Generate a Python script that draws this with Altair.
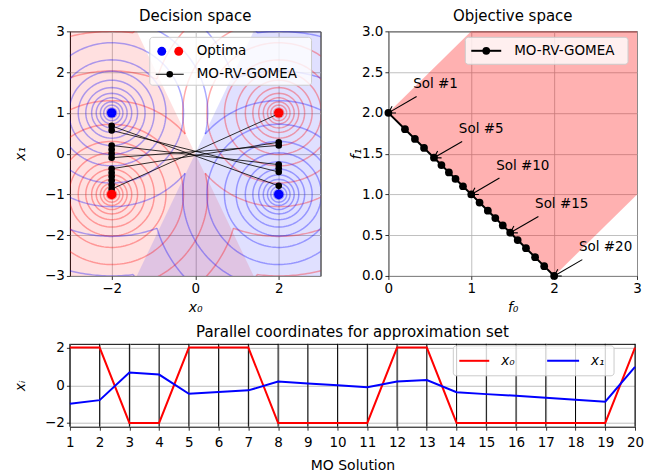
import math
import numpy as np
import pandas as pd
import altair as alt

FONT = "DejaVu Sans"

# ---------------- data ----------------
sol = list(range(1, 21))
x0 = [2, 2, -2, -2, 2, 2, 2, -2, -2, -2, -2, 2, 2, -2, -2, -2, -2, -2, -2, 2]
x1 = [-0.98, -0.79, 0.68, 0.57, -0.45, -0.36, -0.27, 0.2, 0.1, 0.0, -0.1, 0.2, 0.28,
      -0.37, -0.47, -0.56, -0.66, -0.77, -0.87, 0.98]
f0 = [0.0, 0.2, 0.32, 0.43, 0.55, 0.64, 0.73, 0.81, 0.9, 1.0, 1.1, 1.2, 1.29, 1.38,
      1.47, 1.56, 1.66, 1.77, 1.88, 2.0]
f1 = [2.0, 1.8, 1.68, 1.57, 1.45, 1.36, 1.27, 1.19, 1.1, 1.0, 0.9, 0.8, 0.71, 0.62,
      0.53, 0.44, 0.34, 0.23, 0.12, 0.0]

opt_x0 = [-2, 2, -2, 2]
opt_x1 = [1, -1, -1, 1]
opt_col = ["blue", "blue", "red", "red"]

contour_r = [0.06, 0.12, 0.19, 0.27, 0.37, 0.48, 0.62, 0.8, 1.02, 1.3, 1.72,
             2.3, 3.03, 4.0]
bisector_slope = 2.0
shade_edge = 1.4  # x where the shaded cells meet y = +/-3

region_f0 = [0, 1, 2, 3]
region_lo = [2, 1, 0, 1]
region_hi = [2, 3, 3, 3]

ann_sols = [1, 5, 10, 15, 20]
ann_text_off = (0.3, 0.3)
ann_tail_off = (0.34, 0.2)

# ---------------- sizes ----------------
W1, H1 = 251, 245
W2, H2 = 249, 245
W3, H3 = 566, 83
LAB = 13.5
TIT = 15

# ---------------- contour arcs ----------------
def cell(cx, cy, col):
    k = bisector_slope
    if col == "blue":
        return (lambda x, y: y > k * x) if cx < 0 else (lambda x, y: y < k * x)
    return (lambda x, y: y < -k * x) if cx < 0 else (lambda x, y: y > -k * x)


def arcs(cx, cy, r, inside):
    n = max(60, int(r * 110))
    th = np.linspace(0, 2 * np.pi, n + 1)
    pt = lambda t: (cx + r * math.cos(t), cy + r * math.sin(t))
    segs, cur, prev = [], [], None
    for k, t in enumerate(th):
        p = pt(t)
        ins = inside(*p)
        if k > 0 and ins != prev:
            a, b = th[k - 1], t
            for _ in range(30):
                m = 0.5 * (a + b)
                if inside(*pt(m)) == prev:
                    a = m
                else:
                    b = m
            q = pt(0.5 * (a + b))
            if prev:
                cur.append(q)
                segs.append(cur)
                cur = []
            else:
                cur = [q]
        if ins:
            cur.append(p)
        prev = ins
    if cur:
        segs.append(cur)
    if len(segs) > 1 and inside(*pt(0.0)):
        last = segs.pop()
        segs[0] = last + segs[0][1:]
    return segs


rows = []
seg_id = 0
for cx, cy, col in zip(opt_x0, opt_x1, opt_col):
    ins = cell(cx, cy, col)
    for r in contour_r:
        for s in arcs(cx, cy, r, ins):
            for i, (px, py) in enumerate(s):
                rows.append({"x": round(px, 4), "y": round(py, 4), "seg": seg_id, "i": i, "c": col})
            seg_id += 1
cont = pd.DataFrame(rows)

# ---------------- common encodings ----------------
sx1 = alt.Scale(domain=[-3, 3], nice=False, zero=False)
sy1 = alt.Scale(domain=[-3, 3], nice=False, zero=False)
ax1 = alt.Axis(values=[-2, 0, 2], title="x₀", titleFontStyle="italic", titlePadding=6,
               labelFlush=False)
ay1 = alt.Axis(values=[-3, -2, -1, 0, 1, 2, 3], title="x₁", titleFontStyle="italic",
               minExtent=28, maxExtent=28, titlePadding=14, labelFlush=False)


def X1(f):
    return alt.X(f, type="quantitative", scale=sx1, axis=ax1)


def Y1(f):
    return alt.Y(f, type="quantitative", scale=sy1, axis=ay1)


def title(t, off):
    return alt.TitleParams(t, fontSize=TIT, fontWeight="normal", frame="group", offset=off)


one = pd.DataFrame({"a": [0]})


def vtext(t, px, py, style="normal"):
    return alt.Chart(one).mark_text(align="left", baseline="middle", fontSize=LAB,
                                    font=FONT, color="black", text=t,
                                    fontStyle=style).encode(
        x=alt.value(px), y=alt.value(py))


def vbox(xa, xb, ya, yb):
    return alt.Chart(one).mark_rect(fill="white", fillOpacity=0.8, stroke="#cccccc",
                                    strokeWidth=1, cornerRadius=3).encode(
        x=alt.value(xa), x2=alt.value(xb), y=alt.value(ya), y2=alt.value(yb))


# ---------------- decision space ----------------
shade = pd.DataFrame({
    "y": [-3, 3, -3, 3],
    "xl": [-3, -3, -shade_edge, shade_edge],
    "xr": [shade_edge, -shade_edge, 3, 3],
    "c": ["red", "red", "blue", "blue"],
})
shade_red = alt.Chart(shade[shade.c == "red"]).mark_area(
    orient="horizontal", color="#ff0000", opacity=0.12).encode(
    y=Y1("y"), x=X1("xl"), x2="xr")
shade_blue = alt.Chart(shade[shade.c == "blue"]).mark_area(
    orient="horizontal", color="#0000ff", opacity=0.12).encode(
    y=Y1("y"), x=X1("xl"), x2="xr")

cont_red = alt.Chart(cont[cont.c == "red"]).mark_line(
    color="#ff0000", strokeWidth=1.5, opacity=0.33, clip=True).encode(
    x=X1("x"), y=Y1("y"), detail="seg:N", order="i:Q")
cont_blue = alt.Chart(cont[cont.c == "blue"]).mark_line(
    color="#0000ff", strokeWidth=1.5, opacity=0.33, clip=True).encode(
    x=X1("x"), y=Y1("y"), detail="seg:N", order="i:Q")

sols = pd.DataFrame({"sol": sol, "x0": x0, "x1": x1, "f0": f0, "f1": f1})
dec_line = alt.Chart(sols).mark_line(color="black", strokeWidth=0.8).encode(
    x=X1("x0"), y=Y1("x1"), order="sol:Q")
dec_pts = alt.Chart(sols).mark_circle(color="black", size=44, opacity=1).encode(
    x=X1("x0"), y=Y1("x1"))
opt = pd.DataFrame({"x": opt_x0, "y": opt_x1, "c": opt_col})
opt_pts = alt.Chart(opt).mark_circle(size=90, opacity=1).encode(
    x=X1("x"), y=Y1("y"), color=alt.Color("c:N", scale=None))

leg1_b = alt.Chart(one).mark_circle(color="blue", size=80, opacity=1).encode(
    x=alt.value(92), y=alt.value(20))
leg1_r = alt.Chart(one).mark_circle(color="red", size=80, opacity=1).encode(
    x=alt.value(109), y=alt.value(20))
leg1_l = alt.Chart(one).mark_rule(color="black", strokeWidth=1).encode(
    x=alt.value(86), x2=alt.value(114), y=alt.value(43))
leg1_p = alt.Chart(one).mark_circle(color="black", size=44, opacity=1).encode(
    x=alt.value(100), y=alt.value(43))

decision = alt.layer(
    shade_red, shade_blue, cont_red, cont_blue, dec_line, dec_pts, opt_pts,
    vbox(80, 242, 6, 54), leg1_b, leg1_r, leg1_l, leg1_p,
    vtext("Optima", 127, 20), vtext("MO-RV-GOMEA", 127, 43)
).properties(width=W1, height=H1, title=title("Decision space", 0))

# ---------------- objective space ----------------
sx2 = alt.Scale(domain=[0, 3], nice=False, zero=False)
sy2 = alt.Scale(domain=[0, 3], nice=False, zero=False)
ax2 = alt.Axis(values=[0, 1, 2, 3], title="f₀", titleFontStyle="italic", titlePadding=6,
               labelFlush=False)
ay2 = alt.Axis(values=[0, 0.5, 1, 1.5, 2, 2.5, 3], format=".1f", title="f₁",
               titleFontStyle="italic", minExtent=24, maxExtent=24, titlePadding=1,
               labelFlush=False)


def X2(f):
    return alt.X(f, type="quantitative", scale=sx2, axis=ax2)


def Y2(f):
    return alt.Y(f, type="quantitative", scale=sy2, axis=ay2)


reg = pd.DataFrame({"f0": region_f0, "lo": region_lo, "hi": region_hi})
reg_area = alt.Chart(reg).mark_area(color="#ff0000", opacity=0.3, stroke="#ff0000",
                                    strokeOpacity=0.15, strokeWidth=1).encode(
    x=X2("f0"), y=Y2("lo"), y2="hi")
front_line = alt.Chart(sols).mark_line(color="black", strokeWidth=2).encode(
    x=X2("f0"), y=Y2("f1"), order="sol:Q")
front_pts = alt.Chart(sols).mark_circle(color="black", size=60, opacity=1).encode(
    x=X2("f0"), y=Y2("f1"))

kx, ky = W2 / 3.0, H2 / 3.0
ang = math.degrees(math.atan2(ann_tail_off[1] * ky, -ann_tail_off[0] * kx))
ann = sols[sols.sol.isin(ann_sols)].copy()
ann["label"] = ["Sol #%d" % s for s in ann.sol]
ann["tx"] = ann.f0 + ann_text_off[0]
ann["ty"] = ann.f1 + ann_text_off[1]
ann["ax"] = ann.f0 + ann_tail_off[0]
ann["ay"] = ann.f1 + ann_tail_off[1]
ann_text = alt.Chart(ann).mark_text(align="left", baseline="alphabetic", fontSize=LAB,
                                    font=FONT, color="black").encode(
    x=X2("tx"), y=Y2("ty"), text="label:N")
ann_rule = alt.Chart(ann).mark_rule(color="black", strokeWidth=1.1).encode(
    x=X2("ax"), y=Y2("ay"), x2="f0", y2="f1")
ann_head = alt.Chart(ann).mark_point(
    shape="M -1 -0.6 L 0 0 L -1 0.6", filled=False, color="black", strokeWidth=1.1,
    size=170, opacity=1, angle=ang).encode(x=X2("f0"), y=Y2("f1"))

leg2_l = alt.Chart(one).mark_rule(color="black", strokeWidth=2).encode(
    x=alt.value(83), x2=alt.value(113), y=alt.value(19.5))
leg2_p = alt.Chart(one).mark_circle(color="black", size=60, opacity=1).encode(
    x=alt.value(98), y=alt.value(19.5))

objective = alt.layer(
    reg_area, front_line, front_pts, ann_rule, ann_head, ann_text,
    vbox(77, 240, 6, 33), leg2_l, leg2_p, vtext("MO-RV-GOMEA", 126, 19.5)
).properties(width=W2, height=H2, title=title("Objective space", 0))

# ---------------- parallel coordinates ----------------
sx3 = alt.Scale(domain=[1, 20], nice=False, zero=False)
sy3 = alt.Scale(domain=[-2.2, 2.2], nice=False, zero=False)
ax3 = alt.Axis(values=sol, format="d", title="MO Solution", titlePadding=10,
               labelPadding=5, labelFlush=False, labelOverlap=False)
ay3 = alt.Axis(values=[-2, 0, 2], title="xᵢ", titleFontStyle="italic",
               minExtent=28, maxExtent=28, titlePadding=14, labelFlush=False)


def X3(f):
    return alt.X(f, type="quantitative", scale=sx3, axis=ax3)


def Y3(f):
    return alt.Y(f, type="quantitative", scale=sy3, axis=ay3)


vrules = alt.Chart(sols).mark_rule(color="black", strokeWidth=1).encode(x=X3("sol"))
pc_x0 = alt.Chart(sols).mark_line(color="#ff0000", strokeWidth=2).encode(
    x=X3("sol"), y=Y3("x0"))
pc_x1 = alt.Chart(sols).mark_line(color="#0000ff", strokeWidth=2).encode(
    x=X3("sol"), y=Y3("x1"))

leg3_r = alt.Chart(one).mark_rule(color="#ff0000", strokeWidth=2).encode(
    x=alt.value(390), x2=alt.value(420), y=alt.value(17))
leg3_b = alt.Chart(one).mark_rule(color="#0000ff", strokeWidth=2).encode(
    x=alt.value(478), x2=alt.value(510), y=alt.value(17))

parallel = alt.layer(
    vrules, pc_x0, pc_x1, vbox(384, 545, 2, 32), leg3_r, leg3_b,
    vtext("x₀", 432, 17, "italic"), vtext("x₁", 522, 17, "italic")
).properties(width=W3, height=H3,
             title=title("Parallel coordinates for approximation set", 1))

top = alt.hconcat(decision, objective, spacing=27)
chart = alt.vconcat(top, parallel, spacing=8).properties(
    padding={"left": 5, "top": 0, "right": 0, "bottom": 0}
).configure(font=FONT).configure_view(
    stroke="black", strokeWidth=1
).configure_axis(
    grid=True, gridColor="#b0b0b0", gridWidth=0.8, domain=False,
    tickColor="black", tickSize=3.5, tickWidth=0.8, labelPadding=2,
    labelFont=FONT, labelFontSize=LAB, labelColor="black",
    titleFont=FONT, titleFontSize=14, titleFontWeight="normal", titleColor="black"
).configure_title(font=FONT, color="black")

chart.save("out.html", embed_options={"renderer": "svg", "actions": False})
